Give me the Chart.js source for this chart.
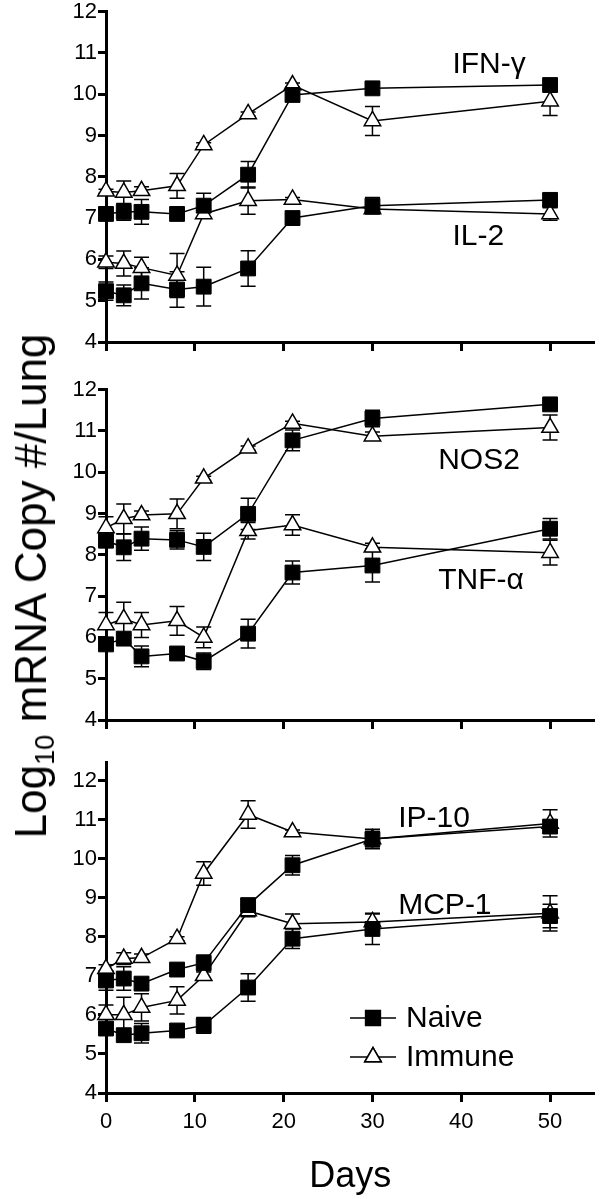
<!DOCTYPE html>
<html>
<head>
<meta charset="utf-8">
<script src="https://cdn.jsdelivr.net/npm/chart.js@4.4.0/dist/chart.umd.min.js"></script>
<style>
	body { margin: 0; background: #fff; width: 606px; height: 1199px; position: relative; overflow: hidden;
		font-family: "Liberation Sans", Arial, sans-serif; color: #000; }
	.panel { position: absolute; left: 0; width: 606px; }
	#ytitle { position: absolute; left: 31px; top: 586px; white-space: nowrap; font-size: 44px;
		transform: translate(-50%, -50%) rotate(-90deg); }
	#ytitle sub { font-size: 0.62em; vertical-align: baseline; position: relative; top: 0.3em; }
</style>
</head>
<body>
<div class="panel" style="top:0;height:372px"><canvas id="panel1"></canvas></div>
<div class="panel" style="top:378px;height:372px"><canvas id="panel2"></canvas></div>
<div class="panel" style="top:751px;height:448px"><canvas id="panel3"></canvas></div>
<div id="ytitle">Log<sub>10</sub> mRNA Copy #/Lung</div>

<script>
// sampling days
const days = [0, 2, 4, 8, 11, 16, 21, 30, 50];

// top panel: IFN-gamma and IL-2
const ifnNaive     = [7.10, 7.15, 7.15, 7.10, 7.30, 8.05, 9.98, 10.14, 10.22];
const ifnNaiveErr  = [0.10, 0.20, 0.30, 0.08, 0.30, 0.32, 0.15, 0.12, 0.10];
const ifnImmune    = [7.65, 7.62, 7.66, 7.78, 8.77, 9.52, 10.22, 9.35, 9.83];
const ifnImmuneErr = [0.05, 0.28, 0.10, 0.30, 0.05, 0.05, 0.05, 0.35, 0.35];
const il2Naive     = [5.23, 5.13, 5.42, 5.27, 5.34, 5.78, 7.00, 7.30, 7.44];
const il2NaiveErr  = [0.22, 0.25, 0.38, 0.43, 0.47, 0.43, 0.10, 0.20, 0.15];
const il2Immune    = [5.93, 5.90, 5.80, 5.61, 7.10, 7.42, 7.45, 7.22, 7.10];
const il2ImmuneErr = [0.15, 0.30, 0.25, 0.53, 0.10, 0.33, 0.05, 0.10, 0.15];

// middle panel: NOS2 and TNF-alpha
const nosNaive     = [8.34, 8.18, 8.39, 8.36, 8.19, 8.99, 10.77, 11.30, 11.64];
const nosNaiveErr  = [0.10, 0.32, 0.28, 0.22, 0.33, 0.38, 0.25, 0.20, 0.08];
const nosImmune    = [8.65, 8.87, 8.96, 8.99, 9.85, 10.58, 11.18, 10.87, 11.08];
const nosImmuneErr = [0.27, 0.36, 0.10, 0.36, 0.05, 0.05, 0.05, 0.10, 0.30];
const tnfNaive     = [5.83, 5.97, 5.54, 5.61, 5.42, 6.09, 7.57, 7.74, 8.63];
const tnfNaiveErr  = [0.10, 0.10, 0.25, 0.05, 0.20, 0.35, 0.28, 0.40, 0.25];
const tnfImmune    = [6.30, 6.45, 6.30, 6.40, 6.00, 8.58, 8.72, 8.18, 8.05];
const tnfImmuneErr = [0.30, 0.40, 0.30, 0.35, 0.25, 0.20, 0.25, 0.10, 0.30];

// bottom panel: IP-10 and MCP-1
const ipNaive      = [6.88, 6.93, 6.80, 7.16, 7.33, 8.81, 9.83, 10.50, 10.82];
const ipNaiveErr   = [0.25, 0.30, 0.15, 0.10, 0.20, 0.15, 0.25, 0.20, 0.15];
const ipImmune     = [7.18, 7.44, 7.46, 7.95, 9.62, 11.13, 10.68, 10.50, 10.90];
const ipImmuneErr  = [0.10, 0.15, 0.10, 0.05, 0.30, 0.35, 0.05, 0.25, 0.35];
const mcpNaive     = [5.65, 5.48, 5.53, 5.60, 5.73, 6.70, 7.95, 8.20, 8.53];
const mcpNaiveErr  = [0.15, 0.10, 0.25, 0.05, 0.20, 0.35, 0.25, 0.40, 0.30];
const mcpImmune    = [6.00, 6.00, 6.19, 6.37, 7.00, 8.66, 8.33, 8.38, 8.60];
const mcpImmuneErr = [0.25, 0.45, 0.35, 0.35, 0.10, 0.15, 0.25, 0.20, 0.45];

const xTicks = [0, 10, 20, 30, 40, 50];
const groups = ['Naive', 'Immune'];

const FONT = '"Liberation Sans", Arial, sans-serif';

function naiveSet(vals, errs){
	return {
		label: groups[0],
		data: days.map((d, i) => ({x: d, y: vals[i]})),
		errors: errs,
		borderColor: '#000', borderWidth: 1.5,
		pointStyle: 'rect', pointRadius: 10.5, pointHoverRadius: 10.5,
		pointBackgroundColor: '#000', pointBorderColor: '#000', pointBorderWidth: 1,
		tension: 0, clip: false
	};
}
function immuneSet(vals, errs){
	return {
		label: groups[1],
		data: days.map((d, i) => ({x: d, y: vals[i]})),
		errors: errs,
		borderColor: '#000', borderWidth: 1.5,
		pointStyle: 'triangle', pointRadius: 9.5, pointHoverRadius: 9.5,
		pointBackgroundColor: '#fff', pointBorderColor: '#000', pointBorderWidth: 1.5,
		tension: 0, clip: false
	};
}

// error bars go under the markers
const errorBars = {
	id: 'errorBars',
	beforeDatasetsDraw(chart){
		const ctx = chart.ctx, yS = chart.scales.y;
		ctx.save();
		ctx.strokeStyle = '#000';
		ctx.lineWidth = 1.5;
		chart.data.datasets.forEach((ds, di) => {
			const meta = chart.getDatasetMeta(di);
			meta.data.forEach((pt, i) => {
				const v = ds.data[i].y, e = ds.errors[i];
				const top = yS.getPixelForValue(v + e), bot = yS.getPixelForValue(v - e);
				ctx.beginPath();
				ctx.moveTo(pt.x, top); ctx.lineTo(pt.x, bot);
				ctx.moveTo(pt.x - 7.5, top); ctx.lineTo(pt.x + 7.5, top);
				ctx.moveTo(pt.x - 7.5, bot); ctx.lineTo(pt.x + 7.5, bot);
				ctx.stroke();
			});
		});
		ctx.restore();
	}
};

// cytokine names, anchored in data space
const geneLabels = {
	id: 'geneLabels',
	afterDraw(chart, args, opts){
		const ctx = chart.ctx;
		ctx.save();
		ctx.fillStyle = '#000';
		ctx.font = '30px ' + FONT;
		ctx.textAlign = 'left';
		ctx.textBaseline = 'alphabetic';
		(opts.items || []).forEach(it => {
			ctx.fillText(it.text, chart.scales.x.getPixelForValue(it.x), chart.scales.y.getPixelForValue(it.y));
		});
		ctx.restore();
	}
};

// line-through-marker legend like the original
const lineLegend = {
	id: 'lineLegend',
	afterDraw(chart, args, opts){
		if(!opts.show) return;
		const ctx = chart.ctx;
		ctx.save();
		ctx.font = '30px ' + FONT;
		ctx.textBaseline = 'middle';
		ctx.fillStyle = '#000';
		[0, 1].forEach(k => {
			const ds = chart.data.datasets[k];
			const y = opts.y + k * opts.gap;
			ctx.strokeStyle = '#000';
			ctx.lineWidth = 1.5;
			ctx.beginPath();
			ctx.moveTo(opts.x, y); ctx.lineTo(opts.x + 46, y);
			ctx.stroke();
			Chart.helpers.drawPoint(ctx, {
				pointStyle: ds.pointStyle, radius: ds.pointRadius, borderWidth: ds.pointBorderWidth
			}, opts.x + 23, y);
			ctx.fillStyle = ds.pointBackgroundColor;
			ctx.strokeStyle = '#000';
			ctx.lineWidth = ds.pointBorderWidth;
			ctx.fill(); ctx.stroke();
			ctx.fillStyle = '#000';
			ctx.fillText(ds.label, opts.x + 56, y + 1);
		});
		ctx.restore();
	}
};

function makePanel(id, datasets, yMax, xAxisH, labels, legend, showX){
	return new Chart(document.getElementById(id), {
		type: 'line',
		data: { datasets: datasets },
		plugins: [errorBars, geneLabels, lineLegend],
		options: {
			responsive: true,
			maintainAspectRatio: false,
			animation: false,
			events: [],
			layout: { padding: { top: 10, right: 3, left: 0, bottom: 0 } },
			plugins: {
				legend: { display: false },
				tooltip: { enabled: false },
				geneLabels: { items: labels },
				lineLegend: legend
			},
			scales: {
				x: {
					type: 'linear', min: 0, max: 55,
					border: { color: '#000', width: 3 },
					grid: { display: true, drawOnChartArea: false, color: '#000', tickLength: 9, tickWidth: 3 },
					afterBuildTicks: s => { s.ticks = xTicks.map(v => ({value: v})); },
					ticks: { display: showX, color: '#000', padding: 7, font: { family: FONT, size: 22 } },
					title: { display: showX, text: 'Days', color: '#000', padding: 0,
						font: { family: FONT, size: 36, lineHeight: 1.2 } },
					afterFit: s => { s.height = xAxisH; s.paddingLeft = 0; s.paddingRight = 0; }
				},
				y: {
					min: 4, max: yMax,
					border: { color: '#000', width: 3 },
					grid: { display: true, drawOnChartArea: false, color: '#000', tickLength: 8, tickWidth: 3 },
					ticks: { stepSize: 1, includeBounds: false, color: '#000', padding: 1,
						font: { family: FONT, size: 22 } },
					afterFit: s => { s.width = 106; s.paddingTop = 0; s.paddingBottom = 0; }
				}
			}
		}
	});
}

makePanel('panel1',
	[naiveSet(ifnNaive, ifnNaiveErr), immuneSet(ifnImmune, ifnImmuneErr),
	 naiveSet(il2Naive, il2NaiveErr), immuneSet(il2Immune, il2ImmuneErr)],
	12, 30,
	[{text: 'IFN-\u03b3', x: 39, y: 10.5}, {text: 'IL-2', x: 39, y: 6.34}],
	{show: false}, false);

makePanel('panel2',
	[naiveSet(nosNaive, nosNaiveErr), immuneSet(nosImmune, nosImmuneErr),
	 naiveSet(tnfNaive, tnfNaiveErr), immuneSet(tnfImmune, tnfImmuneErr)],
	12, 30,
	[{text: 'NOS2', x: 37.4, y: 10.07}, {text: 'TNF-\u03b1', x: 37.4, y: 7.18}],
	{show: false}, false);

makePanel('panel3',
	[naiveSet(ipNaive, ipNaiveErr), immuneSet(ipImmune, ipImmuneErr),
	 naiveSet(mcpNaive, mcpNaiveErr), immuneSet(mcpImmune, mcpImmuneErr)],
	12.46, 106,
	[{text: 'IP-10', x: 32.9, y: 10.82}, {text: 'MCP-1', x: 32.9, y: 8.57}],
	{show: true, x: 350, y: 1018 - 751, gap: 39}, true);
</script>
</body>
</html>
